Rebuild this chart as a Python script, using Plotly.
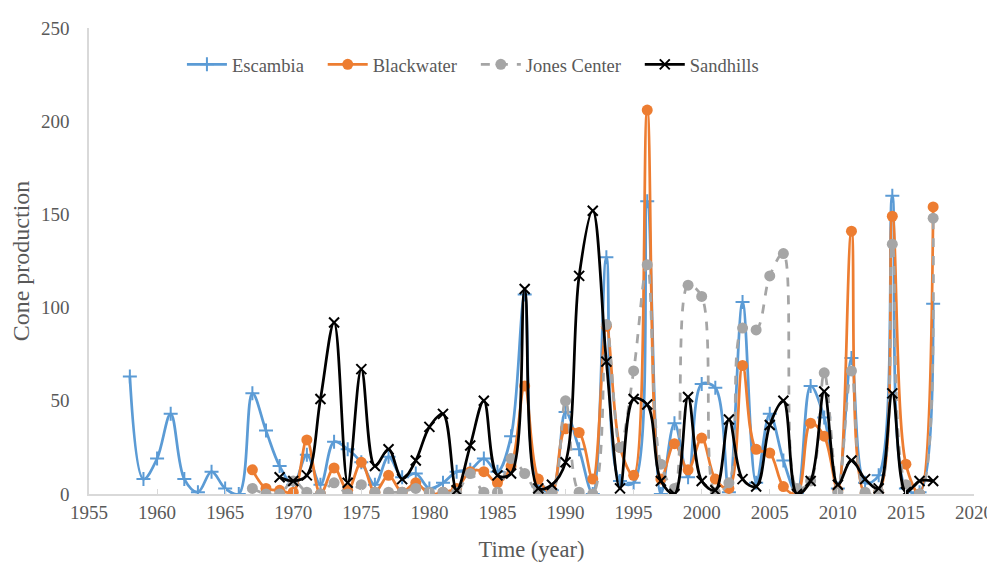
import plotly.graph_objects as go

years_esc = list(range(1958, 2018))
escambia = [63, 8, 19, 43, 8, 1, 12, 3, 0, 54, 34, 15, 5, 21, 5, 28, 24, 17, 5, 20,
            9, 11, 3, 6, 12, 13, 19, 12, 31, 107, 4, 2, 44, 24, 0, 127, 7, 6, 157, 0,
            38, 9, 59, 57, 1, 103, 6, 43, 18, 0, 58, 41, 3, 73, 6, 10, 160, 3, 1, 102]

years_bw = list(range(1967, 2018))
blackwater = [13, 3, 2, 1, 29, 0, 14, 2, 17, 1, 10, 1, 6, 0, 1, 3, 12, 12, 6, 15,
              58, 8, 1, 35, 33, 8, 90, 25, 10, 206, 8, 27, 13, 30, 8, 3, 69, 24, 22, 4,
              0, 38, 31, 2, 141, 0, 1, 149, 16, 0, 154]

years_jc = list(range(1967, 2018))
jones = [3, 0, 0, 7, 1, 0, 6, 0, 5, 1, 1, 1, 3, 1, 1, 1, 11, 1, 1, 19,
         11, 1, 1, 50, 1, 0, 91, 25, 66, 123, 16, 3, 112, 106, 1, 6, 89, 88, 117, 129,
         3, 7, 65, 1, 66, 1, 1, 134, 5, 0, 148]

years_sh = list(range(1969, 2018))
sandhills = [9, 7, 10, 51, 92, 6, 67, 15, 24, 8, 18, 36, 43, 2, 26, 50, 10, 11, 110, 3,
             5, 17, 117, 152, 71, 3, 51, 48, 7, 0, 52, 7, 2, 40, 8, 4, 37, 50, 0, 7,
             55, 5, 18, 8, 3, 54, 1, 7, 7]

FONT = "Liberation Serif"
TXT = "#595959"
PAD = "\u00a0\u00a0\u00a0"

fig = go.Figure()
fig.add_trace(go.Scatter(
    x=years_esc, y=escambia, name="Escambia" + PAD, mode="lines+markers",
    line=dict(color="#5B9BD5", width=2.75, shape="spline", smoothing=1),
    marker=dict(symbol="cross-thin", size=10, line=dict(color="#5B9BD5", width=2))))
fig.add_trace(go.Scatter(
    x=years_bw, y=blackwater, name="Blackwater" + PAD, mode="lines+markers",
    line=dict(color="#ED7D31", width=2.75, shape="spline", smoothing=1),
    marker=dict(symbol="circle", size=11, color="#ED7D31")))
fig.add_trace(go.Scatter(
    x=years_jc, y=jones, name="Jones Center" + PAD, mode="lines+markers",
    line=dict(color="#A5A5A5", width=2.75, shape="spline", smoothing=1, dash="dash"),
    marker=dict(symbol="circle", size=11, color="#A5A5A5")))
fig.add_trace(go.Scatter(
    x=years_sh, y=sandhills, name="Sandhills", mode="lines+markers",
    line=dict(color="#000000", width=2.75, shape="spline", smoothing=1),
    marker=dict(symbol="x-thin", size=10, line=dict(color="#000000", width=2))))

fig.update_layout(
    width=995, height=562,
    margin=dict(l=81, r=28, t=10, b=76),
    paper_bgcolor="white", plot_bgcolor="white",
    font=dict(family=FONT, color=TXT, size=19),
    legend=dict(orientation="h", x=0.105, y=0.921, xanchor="left", yanchor="middle",
                font=dict(family=FONT, size=18.5, color=TXT), bgcolor="rgba(0,0,0,0)",
                itemwidth=40, tracegroupgap=0),
    xaxis=dict(range=[1955, 2020], dtick=5, tick0=1955, showgrid=False, zeroline=False,
               showline=True, linecolor="#D9D9D9", linewidth=1.5,
               ticks="inside", ticklen=5, tickcolor="#D9D9D9", ticklabeloverflow="allow",
               tickfont=dict(family=FONT, size=19, color=TXT),
               title=dict(text="Time (year)", font=dict(family=FONT, size=22.5, color=TXT), standoff=20)),
    yaxis=dict(range=[0, 250], dtick=50, showgrid=False, zeroline=False,
               showline=True, linecolor="#D9D9D9", linewidth=1.5,
               ticks="outside", ticklen=14, tickcolor="rgba(0,0,0,0)", ticklabeloverflow="allow",
               tickfont=dict(family=FONT, size=19, color=TXT),
               title=dict(text="Cone production", font=dict(family=FONT, size=24, color=TXT), standoff=6)),
)

fig.write_html("out.html")
